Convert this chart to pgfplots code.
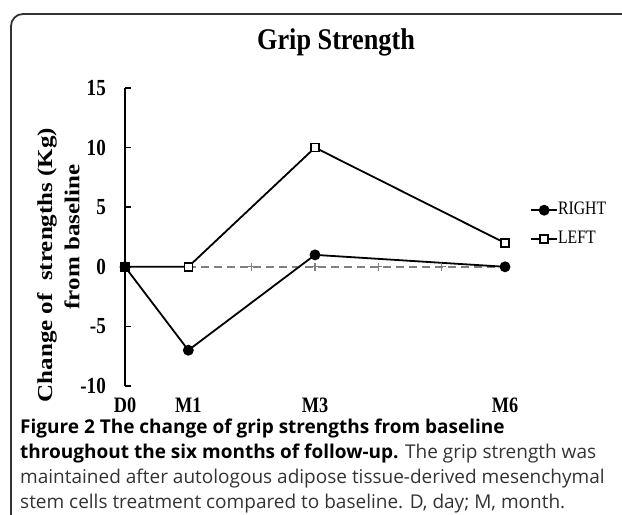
\documentclass[border=0pt]{standalone}
\usepackage{fontspec}
\setmainfont{Liberation Serif}
\newfontfamily\tickfont[FakeStretch=0.83]{Liberation Serif}
\newfontfamily\titlefont[FakeStretch=0.875]{Liberation Serif}
\newfontfamily\capfont{Open Sans}
\usepackage{pgfplots}
\pgfplotsset{compat=1.18}
\begin{document}
\begin{tikzpicture}[x=1bp,y=1bp]
\useasboundingbox (0,0) rectangle (622,515);
\clip (0,0) rectangle (622,515);
\draw[line width=1.8bp, black!80, rounded corners=12bp] (11,501) rectangle (660,-20);
\node[font=\titlefont\bfseries\fontsize{30bp}{30bp}\selectfont, anchor=base] at (336,465) {Grip Strength};
\node[inner sep=0pt, font=\bfseries\fontsize{25bp}{25bp}\selectfont] at (47,250) {\scalebox{0.85}[1]{\rotatebox{90}{Change of\ \ strengths (Kg)}}};
\node[inner sep=0pt, font=\bfseries\fontsize{25bp}{25bp}\selectfont] at (72,278) {\scalebox{0.85}[1]{\rotatebox{90}{from baseline}}};
\begin{axis}[
  at={(125bp,129bp)}, anchor=south west,
  scale only axis, width=380bp, height=298bp,
  xmin=0, xmax=6, ymin=-10, ymax=15,
  clip=false,
  axis lines*=left,
  x axis line style={draw=none},
  y axis line style={line width=1.8bp, black},
  xtick={0,1,3,6}, xticklabels={D0,M1,M3,M6},
  xtick style={draw=none},
  ytick={-10,-5,0,5,10,15}, yticklabels={-10,-5,0,5,10,15},
  ytick style={line width=1.5bp, black},
  tick align=inside,
  major tick length=6bp,
  xticklabel style={anchor=base, inner sep=0pt, yshift=-27bp, font=\tickfont\bfseries\fontsize{22bp}{22bp}\selectfont},
  yticklabel style={anchor=east, inner sep=0pt, xshift=-19bp, font=\tickfont\bfseries\fontsize{23bp}{23bp}\selectfont},
  legend style={at={(1.066,0.619)}, anchor=north west, draw=none, fill=none, inner sep=0pt,
    font=\tickfont\fontsize{19bp}{19bp}\selectfont, row sep=12bp,
    nodes={inner sep=0pt, text height=13bp, text depth=4bp}},
  legend cell align=left,
  /tikz/every even column/.append style={column sep=3bp},
  legend image code/.code={\draw[mark repeat=2,mark phase=2] plot coordinates {(0bp,0bp)(13bp,0bp)(26bp,0bp)};},
  reverse legend,
]
\addplot[gray, dashed, dash pattern=on 8bp off 5bp, line width=1.5bp, mark=+, mark size=4bp, mark options={solid, gray, line width=1.3bp}, forget plot]
  coordinates {(1,0)(2,0)(3,0)(4,0)(5,0)(6,0)};
\addplot[black, line width=1.8bp, mark=square*, mark size=4bp, mark options={solid, fill=white, line width=1.5bp}]
  coordinates {(0,0)(1,0)(3,10)(6,2)};
\addlegendentry{LEFT}
\addplot[black, line width=1.8bp, mark=*, mark size=4.5bp, mark options={solid, fill=black}]
  coordinates {(0,0)(1,-7)(3,1)(6,0)};
\addlegendentry{RIGHT}
\end{axis}
\begin{scope}[every node/.style={anchor=base west, inner sep=0pt, font=\capfont\fontsize{19bp}{21bp}\selectfont}]
\node[text=black] at (20,81) {\bfseries Figure 2 The change of grip strengths from baseline};
\node[text=black!80] at (20,56) {{\bfseries\color{black}throughout the six months of follow-up.} The grip strength was};
\node[text=black!80] at (20,31) {maintained after autologous adipose tissue-derived mesenchymal};
\node[text=black!80] at (20,6) {stem cells treatment compared to baseline. D, day; M, month.};
\end{scope}
\end{tikzpicture}
\end{document}
